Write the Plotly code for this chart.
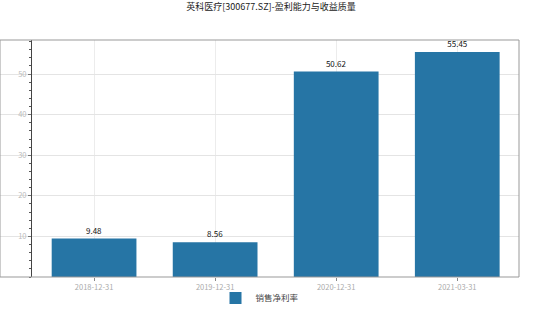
import plotly.graph_objects as go

categories = ["2018-12-31", "2019-12-31", "2020-12-31", "2021-03-31"]
values = [9.48, 8.56, 50.62, 55.45]
labels = ["9.48", "8.56", "50.62", "55.45"]
series_name = "销售净利率"
title = "英科医疗[300677.SZ]-盈利能力与收益质量"

W, H = 542, 309
fig = go.Figure()
fig.add_trace(go.Bar(
    x=categories, y=values, name=series_name,
    marker=dict(color="#2675a5", line=dict(width=0)),
    width=0.7,
    text=labels, textposition="outside",
    textfont=dict(size=8, color="#111"),
    cliponaxis=False,
))
fig.update_layout(
    width=W, height=H,
    margin=dict(l=0, r=W - 519, t=40, b=32, autoexpand=False),
    paper_bgcolor="white", plot_bgcolor="white",
    font=dict(family="Noto Sans CJK SC, Noto Sans, sans-serif"),
    title=dict(text=title, x=0.5, xanchor="center", y=1 - 7 / H, yanchor="middle",
               font=dict(size=9, color="#222")),
    showlegend=True,
    legend=dict(orientation="h", x=0.5, xanchor="center", y=-21 / 237, yanchor="middle",
                bgcolor="rgba(0,0,0,0)",
                font=dict(size=8.5, color="#444"), itemwidth=30, tracegroupgap=0),
    bargap=0.3,
    xaxis=dict(
        type="category", domain=[0, 1], range=[-0.777, 3.51],
        showgrid=True, gridcolor="#ececec", gridwidth=1,
        ticks="outside", ticklen=3, tickcolor="#888",
        tickfont=dict(size=7.5, color="#aaa"),
        showline=False, zeroline=False,
    ),
    yaxis=dict(
        range=[0, 58.4], anchor="free", position=31 / 519,
        tickvals=[10, 20, 30, 40, 50],
        showgrid=True, gridcolor="#e4e4e4", gridwidth=1,
        showline=True, linecolor="#444", linewidth=1,
        ticks="outside", ticklen=3, tickcolor="#777",
        tickfont=dict(size=7.5, color="#bbb"),
        minor=dict(ticks="outside", ticklen=2, dtick=2, tickcolor="#555", showgrid=False),
        zeroline=False,
    ),
)
fig.add_shape(type="rect", xref="paper", yref="paper", x0=0, x1=1, y0=0, y1=1,
              line=dict(color="#999", width=1), layer="above")
fig.write_html("out.html")
